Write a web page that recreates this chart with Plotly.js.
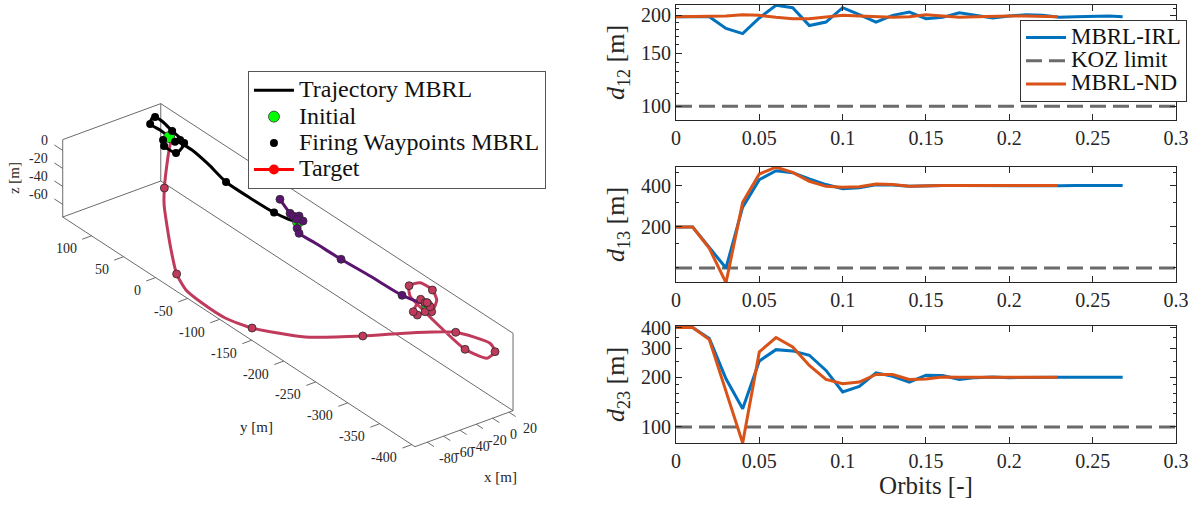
<!DOCTYPE html>
<html>
<head>
<meta charset="utf-8">
<script src="https://cdn.plot.ly/plotly-3.0.1.min.js"></script>
<style>html,body{margin:0;padding:0;background:#fff;}#chart{width:1199px;height:508px;}</style>
</head>
<body>
<div id="chart"></div>
<script>
// ---------- 3D trajectories (x, y, z in m) ----------
const blackX = [4.4, 5.8, 5.2, 8.5, 12.1, 17.7, 14, 12.3, 9, -0.7, -9.4, -10.9, -10.3, -3.9, 4, 6.7, 2.5, -5, -5.4, -4.1, -0.9, 3.3];
const blackY = [105.7, 121.5, 136.3, 137.5, 137.4, 132.1, 113.2, 100.1, 88.1, 80.6, 77.3, 87.9, 94.7, 104.5, 103.7, 72.9, 42.5, 4.8, -33.2, -69, -86.8, -97];
const blackZ = [0, 0, 0, 5, 5, 0, 0, 0, 0, 0, 0, 0, 0, 0, 0, 0, 0, 0, 0, 0, 0, 0];

const blackWpX = [5.2, 12.1, 14, 9, -9.4, -10.3, -3.9, 3.4, 9.4, -5, -4.1];
const blackWpY = [136.3, 137.4, 113.2, 88.1, 77.3, 94.7, 104.5, 95.2, 94.9, 4.8, -69];
const blackWpZ = [0, 5, 0, 0, 0, 0, 0, 0, 0, 0, 0];

const purpleX = [16.4, 7.5, 6.6, 11.3, 8.4, 4.1, -5, -9.5, -8.6, -7.8, -5.2, -3.3, 4.6];
const purpleY = [-52.1, -79.2, -85, -88.4, -98.3, -100.7, -106.2, -114.9, -138.8, -178.3, -220.2, -267.8, -296.8];
const purpleZ = [0, 0, 0, 0, 0, 0, 0, 0, 0, 0, 0, 0, 0];

const purpleWpX = [16.4, 7.5, 6.6, 11.3, 8.4, 5.5, -5, -9.5, -7.8, -3.3];
const purpleWpY = [-52.1, -79.2, -85, -88.4, -98.3, -92.5, -106.2, -114.9, -178.3, -267.8];
const purpleWpZ = [0, 0, 0, 0, 0, 0, 0, 0, 0, 0];

const crimsonX = [-0.4, -4.3, -17.3, -27.1, -40.3, -59.5, -80.7, -91.5, -93.5, -92.3, -82.2, -53.6, -12.7, 3.5, 15.9, 24.2, 7.2, -1.6, -8, -5.9, -4.5, 2.1, 8.3, 20.6, 21.4, 18.2, 0.2, -5, -15, -14.2, 6.5, 5.9, 5, 4.6];
const crimsonY = [97.3, 96.4, 85.4, 73.3, 51.7, 21.1, -14.6, -43, -70.1, -105.2, -134.3, -180.7, -218.5, -276.1, -327.1, -370.1, -399.6, -398.3, -372.2, -330.4, -302.1, -273.4, -264, -265.6, -283.7, -294.5, -309.6, -305.9, -306.6, -299.3, -284.4, -292.1, -301.1, -296.8];
const crimsonZ = [0, -15, -40, -50, -60, -65, -68, -69, -70, -71, -72, -70, -65, -40, -20, -15, -5, -10, -10, -5, 0, 0, 5, 5, 5, 0, 0, 0, 0, 0, 0, 0, 0, 0];

const crimsonWpX = [-17.3, -80.7, -82.2, -12.7, 15.9, 7.2, -8, 8.3, 21.4, 0.2, -5, -15, -14.2, 6.5, 5.9, 5, 7.5];
const crimsonWpY = [85.4, -14.6, -134.3, -218.5, -327.1, -399.6, -372.2, -264, -283.7, -309.6, -305.9, -306.6, -299.3, -284.4, -292.1, -301.1, -293];
const crimsonWpZ = [-40, -68, -72, -65, -20, -5, -10, 5, 5, 0, 0, 0, 0, 0, 0, 0, 0];

const initX = [4.4, 3.3, 4.6];
const initY = [105.7, -97, -296.8];
const initZ = [0, 0, 0];

const targetX = [3.3, null, 4.6];
const targetY = [-97, null, -296.8];
const targetZ = [0, null, 0];

// 3D axes limits and ticks
const xLim = [-95, 25], yLim = [-405, 145], zLim = [-74, 12];
const xTicks3 = [-80, -60, -40, -20, 0, 20];
const yTicks3 = [-400, -350, -300, -250, -200, -150, -100, -50, 0, 50, 100];
const zTicks3 = [-60, -40, -20, 0];

// ---------- Inter-satellite distances ----------
const orbitsIRL = [0, 0.01, 0.02, 0.03, 0.04, 0.05, 0.06, 0.07, 0.08, 0.09, 0.10, 0.11, 0.12, 0.13, 0.14, 0.15, 0.16, 0.17, 0.18, 0.19, 0.20, 0.21, 0.22, 0.23, 0.24, 0.25, 0.26, 0.268];
const orbitsND = [0, 0.01, 0.02, 0.03, 0.04, 0.05, 0.06, 0.07, 0.08, 0.09, 0.10, 0.11, 0.12, 0.13, 0.14, 0.15, 0.16, 0.17, 0.18, 0.19, 0.20, 0.21, 0.22, 0.229];

const d12IRL = [198, 198, 198, 181, 174, 196, 216, 212, 185, 190, 212, 201, 190, 200, 205, 195, 197, 204, 200, 196, 199, 201, 200, 197, 198, 199, 199, 198];
const d12ND  = [198, 198, 198, 199, 201, 200, 197, 195, 195, 197, 200, 199, 198, 197, 198, 201, 199, 197, 198, 199, 199, 199, 199, 198];

const d13IRL = [199, 199, 141, 100, 278, 442, 514, 497, 447, 407, 380, 385, 405, 404, 396, 400, 401, 400, 399, 400, 400, 401, 400, 399, 400, 401, 400, 400];
const d13ND  = [199, 199, 139, 78, 302, 486, 545, 500, 430, 395, 389, 393, 410, 407, 396, 400, 401, 400, 400, 400, 400, 401, 400, 400];

const d23IRL = [400, 400, 343, 196, 129, 251, 294, 289, 272, 220, 163, 176, 213, 203, 187, 206, 205, 194, 199, 201, 199, 200, 200, 200, 200, 200, 200, 200];
const d23ND  = [400, 400, 338, 167, 80, 285, 348, 305, 236, 194, 183, 187, 208, 208, 194, 195, 201, 200, 200, 199, 200, 200, 200, 200];

const kozX = [0, 0.3];
const kozY = [100, 100];

const xTicks = [0, 0.05, 0.1, 0.15, 0.2, 0.25, 0.3];

// ---------- styles ----------
const FONT = 'Liberation Serif, DejaVu Serif, serif';
const AX = '#262626';
const BOX = '#5a5a5a';
const BLUE = '#0072BD', ORANGE = '#D95319', GRAY = '#6b6b6b';
const PURPLE = '#5a1470', CRIMSON = '#c03a5c';

// ---------- orthographic view of the 3D axes (px per metre along each axis) ----------
const VIEW = {ux: 0.817, vx: 0.30, uy: -0.6405, vy: 0.4176, vz: 0.9};
function P(x, y, z) {
  if (x === null || y === null || z === null) return [null, null];
  const dx = x - xLim[0], dy = y - yLim[0], dz = z - zLim[0];
  return [dx * VIEW.ux + dy * VIEW.uy, dx * VIEW.vx + dy * VIEW.vy + dz * VIEW.vz];
}
function proj(X, Y, Z) {
  const u = [], v = [];
  X.forEach((x, i) => { const p = P(x, Y[i], Z[i]); u.push(p[0]); v.push(p[1]); });
  return {u, v};
}
function segs(list) {
  const u = [], v = [];
  list.forEach(s => {
    const a = P(...s[0]), b = P(...s[1]);
    u.push(a[0], b[0], null); v.push(a[1], b[1], null);
  });
  return {u, v};
}

const traces = [];
const on3 = {xaxis:'x4', yaxis:'y4'};

// box edges (back planes)
const [x0, x1] = xLim, [y0, y1] = yLim, [z0, z1] = zLim;
const boxEdges = segs([
  [[x0, y1, z0], [x0, y1, z1]], [[x0, y1, z1], [x1, y1, z1]], [[x1, y1, z1], [x1, y1, z0]], [[x1, y1, z0], [x0, y1, z0]],
  [[x1, y1, z1], [x1, y0, z1]], [[x1, y0, z1], [x1, y0, z0]], [[x1, y0, z0], [x1, y1, z0]],
  [[x0, y0, z0], [x1, y0, z0]], [[x0, y0, z0], [x0, y1, z0]]
]);
traces.push({type:'scatter', mode:'lines', x:boxEdges.u, y:boxEdges.v, ...on3, line:{color:BOX, width:0.9},
  showlegend:false, hoverinfo:'skip'});

function tickSegs(pts, dir, len) {
  const n = Math.hypot(dir[0], dir[1]);
  const u = [], v = [];
  pts.forEach(p => { const a = P(...p); u.push(a[0], a[0] + dir[0] / n * len, null); v.push(a[1], a[1] + dir[1] / n * len, null); });
  return {u, v};
}
const tY = tickSegs(yTicks3.map(t => [x0, t, z0]), [-VIEW.ux, -VIEW.vx], 10);
const tX = tickSegs(xTicks3.map(t => [t, y0, z0]), [-VIEW.uy, -VIEW.vy], 8);
const tZ = tickSegs(zTicks3.map(t => [x0, y1, t]), [VIEW.uy, VIEW.vy], 10);
[tY, tX, tZ].forEach(t => traces.push({type:'scatter', mode:'lines', x:t.u, y:t.v, ...on3,
  line:{color:BOX, width:0.9}, showlegend:false, hoverinfo:'skip'}));

const pb = proj(blackX, blackY, blackZ);
const pbw = proj(blackWpX, blackWpY, blackWpZ);
const pp = proj(purpleX, purpleY, purpleZ);
const ppw = proj(purpleWpX, purpleWpY, purpleWpZ);
const pc = proj(crimsonX, crimsonY, crimsonZ);
const pcw = proj(crimsonWpX, crimsonWpY, crimsonWpZ);
const pi = proj(initX, initY, initZ);
const pt = proj(targetX, targetY, targetZ);

const L1 = s => '<span style="font-size:24px">' + s + '</span>';
const L2 = s => '<span style="font-size:23px">' + s + '</span>';

traces.push({type:'scatter', mode:'lines', name:'Trajectory 3', x:pc.u, y:pc.v, ...on3,
  line:{color:CRIMSON, width:3, shape:'spline', smoothing:0.6}, showlegend:false, hoverinfo:'skip'});
traces.push({type:'scatter', mode:'lines', name:'Trajectory 2', x:pp.u, y:pp.v, ...on3,
  line:{color:PURPLE, width:3, shape:'spline', smoothing:0.6}, showlegend:false, hoverinfo:'skip'});
traces.push({type:'scatter', mode:'lines', name:L1('Trajectory MBRL'), x:pb.u, y:pb.v, ...on3,
  line:{color:'#000', width:3, shape:'spline', smoothing:0.6}, legend:'legend', legendrank:1, hoverinfo:'skip'});
traces.push({type:'scatter', mode:'lines+markers', name:L1('Target'), x:pt.u, y:pt.v, ...on3,
  line:{color:'#ff0000', width:3}, marker:{color:'#ff0000', size:10}, connectgaps:false,
  legend:'legend', legendrank:4, hoverinfo:'skip'});
traces.push({type:'scatter', mode:'markers', name:L1('Initial'), x:pi.u, y:pi.v, ...on3,
  marker:{color:'#00ff00', size:11, line:{color:'#333', width:0.8}}, legend:'legend', legendrank:2, hoverinfo:'skip'});
traces.push({type:'scatter', mode:'markers', name:'Waypoints 3', x:pcw.u, y:pcw.v, ...on3,
  marker:{color:CRIMSON, size:8, line:{color:'#2a2a2a', width:0.8}}, showlegend:false, hoverinfo:'skip'});
traces.push({type:'scatter', mode:'markers', name:'Waypoints 2', x:ppw.u, y:ppw.v, ...on3,
  marker:{color:PURPLE, size:8, line:{color:'#2a2a2a', width:0.8}}, showlegend:false, hoverinfo:'skip'});
traces.push({type:'scatter', mode:'markers', name:L1('Firing Waypoints MBRL'), x:pbw.u, y:pbw.v, ...on3,
  marker:{color:'#000', size:8}, legend:'legend', legendrank:3, hoverinfo:'skip'});

// 2D panels
const panels = [
  {irl:d12IRL, nd:d12ND, xa:'x', ya:'y'},
  {irl:d13IRL, nd:d13ND, xa:'x2', ya:'y2'},
  {irl:d23IRL, nd:d23ND, xa:'x3', ya:'y3'}
];
panels.forEach((p, i) => {
  traces.push({type:'scatter', mode:'lines', name:L2('KOZ limit'), x:kozX, y:kozY, xaxis:p.xa, yaxis:p.ya,
    line:{color:GRAY, width:3, dash:'16px,7px'}, legend:'legend2', showlegend:i === 0, legendrank:2, hoverinfo:'skip'});
  traces.push({type:'scatter', mode:'lines', name:L2('MBRL-IRL'), x:orbitsIRL, y:p.irl, xaxis:p.xa, yaxis:p.ya,
    line:{color:BLUE, width:3}, legend:'legend2', showlegend:i === 0, legendrank:1, hoverinfo:'skip'});
  traces.push({type:'scatter', mode:'lines', name:L2('MBRL-ND'), x:orbitsND, y:p.nd, xaxis:p.xa, yaxis:p.ya,
    line:{color:ORANGE, width:3}, legend:'legend2', showlegend:i === 0, legendrank:3, hoverinfo:'skip'});
});

function xax(anchor, showTitle) {
  const a = {domain:[0.5638, 0.9808], anchor:anchor, range:[0, 0.3], tickvals:xTicks,
    showline:true, mirror:'ticks', linecolor:AX, linewidth:1, ticks:'inside', ticklen:6, tickcolor:AX,
    showgrid:false, zeroline:false, tickfont:{family:FONT, size:20, color:AX}};
  if (showTitle) a.title = {text:'Orbits [-]', font:{family:FONT, size:25, color:AX}, standoff:4};
  return a;
}
function yax(anchor, dom, rng, tv, minor, title) {
  return {domain:dom, anchor:anchor, type:'log', range:rng, tickvals:tv, ticktext:tv.map(String),
    showline:true, mirror:'ticks', linecolor:AX, linewidth:1, ticks:'inside', ticklen:6, tickcolor:AX,
    minor:{tickvals:minor, ticks:'inside', ticklen:3, tickcolor:AX, showgrid:false},
    showgrid:false, zeroline:false, tickfont:{family:FONT, size:20, color:AX},
    title:{text:title, font:{family:FONT, size:26, color:AX}, standoff:8}};
}

const ann = [];
const tf = {family:FONT, size:14, color:AX};
yTicks3.forEach(t => { const p = P(x0, t, z0);
  ann.push({xref:'x4', yref:'y4', x:p[0], y:p[1], text:String(t), showarrow:false, xanchor:'right', yanchor:'middle',
    xshift:-13, yshift:-13, font:tf}); });
xTicks3.forEach(t => { const p = P(t, y0, z0);
  ann.push({xref:'x4', yref:'y4', x:p[0], y:p[1], text:String(t), showarrow:false, xanchor:'center', yanchor:'middle',
    xshift:21, yshift:-16, font:tf}); });
zTicks3.forEach(t => { const p = P(x0, y1, t);
  ann.push({xref:'x4', yref:'y4', x:p[0], y:p[1], text:String(t), showarrow:false, xanchor:'right', yanchor:'middle',
    xshift:-13, yshift:10, font:tf}); });
const tt = {family:FONT, size:15, color:AX};
{ const p = P(x0, y1, (z0 + z1) / 2);
  ann.push({xref:'x4', yref:'y4', x:p[0], y:p[1], text:'z [m]', textangle:-90, showarrow:false, xshift:-48, font:tt}); }
{ const p = P(x0, (y0 + y1) / 2, z0);
  ann.push({xref:'x4', yref:'y4', x:p[0], y:p[1], text:'y [m]', showarrow:false, xshift:18, yshift:-95, font:tt}); }
{ const p = P((x0 + x1) / 2, y0, z0);
  ann.push({xref:'x4', yref:'y4', x:p[0], y:p[1], text:'x [m]', showarrow:false, xshift:36, yshift:-48, font:tt}); }

const W3 = 0.48 * 1199;
const layout = {
  width:1199, height:508, margin:{l:0, r:0, t:0, b:0},
  paper_bgcolor:'#fff', plot_bgcolor:'rgba(0,0,0,0)',
  font:{family:FONT, color:AX},
  xaxis4:{domain:[0, 0.48], anchor:'y4', range:[-415, W3 - 415], visible:false, fixedrange:true},
  yaxis4:{domain:[0, 1], anchor:'x4', range:[-(508 - 446.7), 446.7], visible:false, fixedrange:true},
  legend:{x:0.2068, y:0.8602, xanchor:'left', yanchor:'top', bgcolor:'#fff', bordercolor:'#555', borderwidth:1,
    font:{family:FONT, size:18, color:'#111'}, itemwidth:40, tracegroupgap:0},
  legend2:{x:0.8507, y:0.9606, xanchor:'left', yanchor:'top', bgcolor:'#fff', bordercolor:'#333', borderwidth:1,
    font:{family:FONT, size:15.5, color:'#111'}, itemwidth:40, tracegroupgap:0},
  xaxis:xax('y', false),
  yaxis:yax('x', [0.7638, 0.9902], [Math.log10(90), Math.log10(216.5)], [100, 150, 200], [110, 120, 130, 140, 160, 170, 180, 190, 210], '<i>d</i><sub>12</sub> [m]'),
  xaxis2:xax('y2', false),
  yaxis2:yax('x2', [0.4449, 0.6713], [Math.log10(79), Math.log10(547)], [200, 400], [100, 150, 300, 500], '<i>d</i><sub>13</sub> [m]'),
  xaxis3:xax('y3', true),
  yaxis3:yax('x3', [0.128, 0.3583], [Math.log10(80), Math.log10(409)], [100, 200, 300, 400], [120, 140, 160, 180, 250, 350], '<i>d</i><sub>23</sub> [m]'),
  annotations:ann
};

Plotly.newPlot('chart', traces, layout, {displayModeBar:false, staticPlot:true});
</script>
</body>
</html>
